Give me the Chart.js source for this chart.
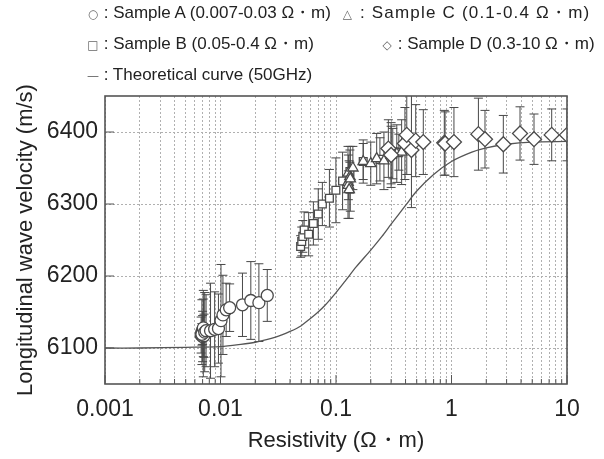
<!DOCTYPE html>
<html>
<head>
<meta charset="utf-8">
<script src="https://cdn.jsdelivr.net/npm/chart.js@4.4.0/dist/chart.umd.min.js"></script>
<style>
  body { margin: 0; background: #fff; }
  #wrap { position: relative; width: 604px; height: 459px; font-family: "Liberation Sans", Arial, sans-serif; }
  canvas { position: absolute; left: 0; top: 0; }
  .leg { position: absolute; font-size: 17px; line-height: 20px; color: #222; white-space: nowrap; }
  .sym { display: inline-block; width: 12px; text-align: center; font-size: 12px; color: #666; font-family: "DejaVu Sans", sans-serif; }
</style>
</head>
<body>
<div id="wrap">
  <canvas id="chart" width="604" height="459"></canvas>
  <div class="leg" style="left:87px;top:3px"><span class="sym">○</span> : Sample A (0.007-0.03 Ω・m)</div>
  <div class="leg" style="left:342px;top:3px;letter-spacing:1.2px"><span class="sym">△</span> : Sample C (0.1-0.4 Ω・m)</div>
  <div class="leg" style="left:87px;top:34px"><span class="sym">□</span> : Sample B (0.05-0.4 Ω・m)</div>
  <div class="leg" style="left:381px;top:34px"><span class="sym">◇</span> : Sample D (0.3-10 Ω・m)</div>
  <div class="leg" style="left:87px;top:65px"><span class="sym">—</span> : Theoretical curve (50GHz)</div>
</div>
<script>
// values: resistivity (Ω·m), velocity (m/s), error (m/s)
const resA = [0.0068, 0.0069, 0.0070, 0.0070, 0.0071, 0.0072, 0.0069, 0.0071, 0.0073, 0.0075,
              0.0082, 0.0089, 0.0096, 0.0101, 0.0105, 0.0112, 0.0120, 0.0155, 0.0183, 0.0215, 0.0254];
const velA = [6118, 6122, 6116, 6125, 6120, 6117, 6119, 6128, 6122, 6124,
              6124, 6126, 6127, 6138, 6146, 6153, 6156, 6160, 6166, 6163, 6173];
const errA = [25, 45, 35, 20, 60, 30, 15, 40, 55, 50,
              66, 52, 48, 78, 55, 37, 33, 44, 54, 54, 36];

const resB = [0.0494, 0.0505, 0.0516, 0.053, 0.058, 0.0637, 0.0702, 0.0762, 0.0877, 0.0998,
              0.114, 0.132, 0.172, 0.24, 0.31, 0.35];
const velB = [6241, 6248, 6255, 6264, 6258, 6273, 6286, 6300, 6308, 6319,
              6332, 6345, 6359, 6362, 6370, 6372];
const errB = [15, 20, 22, 25, 30, 30, 35, 30, 40, 45, 40, 30, 30, 30, 35, 25];

const resC = [0.127, 0.128, 0.130, 0.128, 0.132, 0.133, 0.14, 0.172, 0.2, 0.225, 0.26, 0.3, 0.336, 0.37];
const velC = [6330, 6326, 6320, 6343, 6338, 6335, 6350, 6359, 6356, 6363, 6360, 6368, 6370, 6372];
const errC = [50, 20, 40, 25, 20, 45, 30, 25, 30, 35, 40, 40, 40, 45];

const resD = [0.284, 0.30, 0.395, 0.41, 0.45, 0.49, 0.57, 0.866, 0.88, 1.05,
              1.71, 1.95, 2.81, 3.92, 5.18, 7.37, 10.0];
const velD = [6377, 6368, 6384, 6396, 6375, 6388, 6386, 6385, 6384, 6386,
              6397, 6390, 6383, 6398, 6390, 6396, 6396];
const errD = [40, 45, 50, 55, 80, 50, 45, 45, 44, 48, 50, 40, 40, 37, 35, 36, 36];

const curveRes = [0.001, 0.002, 0.005, 0.01, 0.015, 0.02, 0.03, 0.04, 0.05, 0.06, 0.07, 0.08, 0.1,
                  0.12, 0.15, 0.2, 0.25, 0.3, 0.4, 0.5, 0.7, 1, 1.5, 2, 3, 5, 10];
const curveVel = [6100, 6100, 6101, 6102, 6105, 6108, 6115, 6123, 6131, 6141, 6150, 6159, 6177,
                  6193, 6213, 6236, 6255, 6272, 6298, 6318, 6341, 6359, 6372, 6378, 6383, 6386, 6387];

const xTickValues = [0.001, 0.01, 0.1, 1, 10];
const xTickLabels = ['0.001', '0.01', '0.1', '1', '10'];
const yTickValues = [6100, 6200, 6300, 6400];
const yTickLabels = ['6100', '6200', '6300', '6400'];

function pts(xs, ys) { return xs.map((x, i) => ({x: x, y: ys[i]})); }

const INK = '#555';

// vertical error bars, drawn under the markers
const errorBars = {
  id: 'errorBars',
  beforeDatasetsDraw(chart) {
    const {ctx, scales: {x, y}, chartArea: a} = chart;
    ctx.save();
    ctx.beginPath();
    ctx.rect(a.left, a.top, a.right - a.left, a.bottom - a.top);
    ctx.clip();
    ctx.strokeStyle = '#484848';
    ctx.lineWidth = 1;
    chart.data.datasets.forEach(ds => {
      if (!ds.errors) return;
      ds.data.forEach((p, i) => {
        const px = x.getPixelForValue(p.x);
        const top = y.getPixelForValue(p.y + ds.errors[i]);
        const bot = y.getPixelForValue(p.y - ds.errors[i]);
        ctx.beginPath();
        ctx.moveTo(px, top); ctx.lineTo(px, bot);
        ctx.moveTo(px - 4.5, top); ctx.lineTo(px + 4.5, top);
        ctx.moveTo(px - 4.5, bot); ctx.lineTo(px + 4.5, bot);
        ctx.stroke();
      });
    });
    ctx.restore();
  }
};

// box round the plot and inward tick marks
const frame = {
  id: 'frame',
  afterDraw(chart) {
    const {ctx, chartArea: a, scales: {x, y}} = chart;
    ctx.save();
    ctx.strokeStyle = INK;
    ctx.lineWidth = 1;
    x.ticks.forEach(t => {
      const px = x.getPixelForValue(t.value);
      const len = xTickValues.some(v => Math.abs(v - t.value) < v * 1e-6) ? 9 : 5;
      ctx.beginPath();
      ctx.moveTo(px, a.bottom); ctx.lineTo(px, a.bottom - len);
      ctx.stroke();
    });
    yTickValues.forEach(v => {
      const py = y.getPixelForValue(v);
      ctx.beginPath();
      ctx.moveTo(a.left, py); ctx.lineTo(a.left + 9, py);
      ctx.stroke();
    });
    ctx.lineWidth = 1.6;
    ctx.strokeRect(a.left, a.top, a.right - a.left, a.bottom - a.top);
    ctx.restore();
  }
};

const marker = {
  showLine: false,
  pointBackgroundColor: '#fff',
  pointBorderColor: '#4a4a4a',
  pointBorderWidth: 1.3
};

new Chart(document.getElementById('chart'), {
  type: 'scatter',
  data: {
    datasets: [
      Object.assign({label: 'Sample D', data: pts(resD, velD), errors: errD, pointStyle: 'rectRot', pointRadius: 7.5}, marker),
      Object.assign({label: 'Sample C', data: pts(resC, velC), errors: errC, pointStyle: 'triangle', pointRadius: 6}, marker),
      Object.assign({label: 'Sample B', data: pts(resB, velB), errors: errB, pointStyle: 'rect', pointRadius: 5.5}, marker),
      Object.assign({label: 'Sample A', data: pts(resA, velA), errors: errA, pointStyle: 'circle', pointRadius: 6}, marker),
      {
        label: 'Theoretical curve (50GHz)',
        data: pts(curveRes, curveVel),
        showLine: true,
        borderColor: '#555',
        borderWidth: 1.3,
        pointRadius: 0,
        tension: 0.3
      }
    ]
  },
  options: {
    responsive: false,
    animation: false,
    layout: {padding: {top: 96, right: 37, left: 0, bottom: 0}},
    plugins: {legend: {display: false}, tooltip: {enabled: false}},
    scales: {
      x: {
        type: 'logarithmic',
        min: 0.001,
        max: 10,
        afterBuildTicks: s => {
          s.ticks = s.ticks.filter(t => {
            const m = t.value / Math.pow(10, Math.floor(Math.log10(t.value) + 1e-9));
            return Math.abs(m - Math.round(m)) < 1e-6;
          });
        },
        afterFit: s => { s.height = 75; },
        border: {display: false, dash: [2, 2]},
        grid: {color: '#b0b0b0', lineWidth: 1, drawTicks: false},
        ticks: {
          autoSkip: false,
          maxRotation: 0,
          padding: 12,
          color: '#222',
          font: {family: 'Liberation Sans', size: 23},
          callback: v => {
            const i = xTickValues.findIndex(t => Math.abs(t - v) < v * 1e-6);
            return i >= 0 ? xTickLabels[i] : '';
          }
        },
        title: {
          display: true,
          text: 'Resistivity (Ω・m)',
          color: '#222',
          font: {family: 'Liberation Sans', size: 22},
          padding: {top: 0, bottom: 5}
        }
      },
      y: {
        min: 6050,
        max: 6450,
        afterBuildTicks: s => { s.ticks = yTickValues.map(v => ({value: v})); },
        afterFit: s => { s.width = 105; },
        border: {display: false, dash: [2, 2]},
        grid: {color: '#b0b0b0', lineWidth: 1, drawTicks: false},
        ticks: {
          padding: 7,
          color: '#222',
          font: {family: 'Liberation Sans', size: 23},
          callback: v => {
            const i = yTickValues.indexOf(v);
            return i >= 0 ? yTickLabels[i] : '';
          }
        },
        title: {
          display: true,
          text: 'Longitudinal wave velocity (m/s)',
          color: '#222',
          font: {family: 'Liberation Sans', size: 22},
          padding: {top: 13, bottom: 0}
        }
      }
    }
  },
  plugins: [errorBars, frame]
});
</script>
</body>
</html>
